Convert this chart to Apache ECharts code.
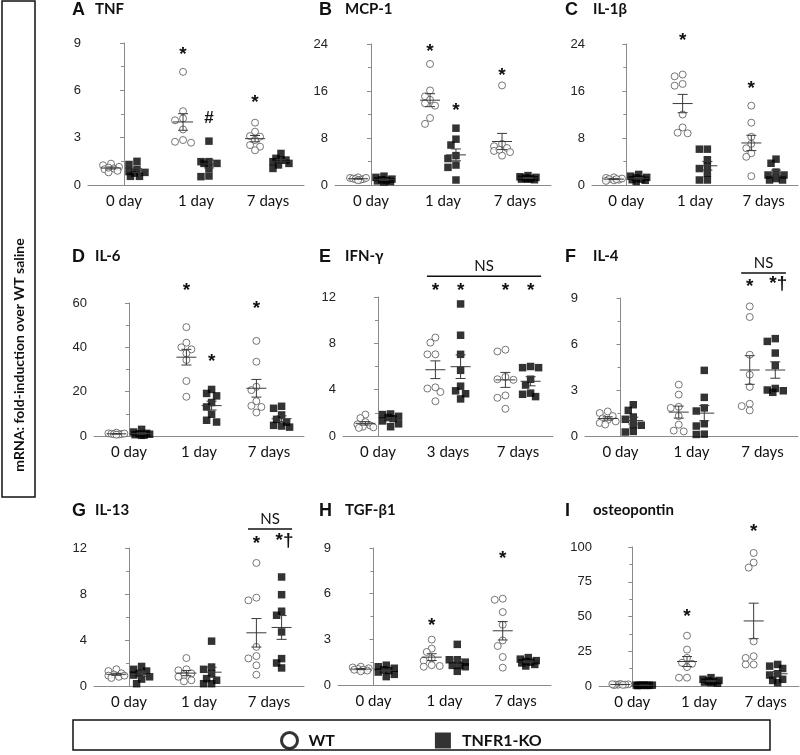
<!DOCTYPE html>
<html><head><meta charset="utf-8">
<script src="https://cdn.jsdelivr.net/npm/echarts@6/dist/echarts.min.js"></script>
<style>html,body{margin:0;padding:0;background:#fff}#c{width:800px;height:755px}</style>
</head><body><div id="c"></div>
<script>
// ---------- DATA ----------
const dayLabels  = ['0 day', '1 day', '7 days'];
const dayLabelsE = ['0 day', '3 days', '7 days'];

// each array: [0-day group, middle group, 7-day group]
const tnfWT = [[1.35,1.25,1.15,1.05,1.0,0.9,0.8,1.1],[7.17,4.68,4.22,4.1,3.52,2.85,2.68,2.74],[3.95,3.38,3.1,3.06,2.85,2.53,2.43,2.2]];
const tnfKO = [[1.5,1.3,1.0,0.85,0.75,0.55,0.55,0.8],[2.78,1.48,1.37,1.48,1.37,1.05,0.53,0.57],[2.0,1.69,1.58,1.48,1.37,1.58,1.05,1.27]];
const mcpWT = [[1.3,1.2,1.1,1.0,0.9,1.0,1.2,0.8],[20.6,16.1,15.1,14.5,13.9,13.5,11.4,10.4],[16.95,7.0,6.6,6.3,5.8,5.6,5.0,6.0]];
const mcpKO = [[1.5,1.3,0.9,0.7,0.5,0.8,0.6,1.0],[9.67,7.8,6.8,5.0,3.4,3.0,4.5,0.85],[1.6,1.4,1.2,1.1,1.0,1.0,0.9,1.3]];
const il1bWT = [[1.3,1.2,1.0,0.9,0.8,1.1,1.0,0.7],[18.8,18.5,16.9,17.2,12.0,9.8,8.8,8.9],[13.5,10.6,8.2,7.0,6.25,5.4,4.8,1.5]];
const il1bKO = [[1.8,1.5,1.2,1.0,0.8,0.6,0.9,1.3],[6.1,6.1,4.3,3.2,2.8,2.0,0.85,0.85],[4.4,3.7,2.2,1.7,1.7,0.85,0.85,1.1]];
const il6WT = [[1.5,1.2,1.0,0.9,0.8,0.7,1.1,0.6],[49.1,42.1,40.0,39.1,37.3,34.3,24.8,17.7],[42.9,33.5,22.2,20.7,15.7,13.6,13.1,10.6]];
const il6KO = [[3.0,1.8,1.2,0.8,0.6,0.4,0.3,1.0],[21.0,19.2,18.1,15.1,13.1,9.8,7.1,6.3],[12.5,13.4,9.5,7.5,6.2,4.8,4.5,4.0]];
const ifngWT = [[1.85,1.55,1.2,1.0,0.9,0.8,0.7,0.75],[8.5,8.06,7.05,7.05,4.1,3.8,4.2,3.0],[7.45,7.3,5.1,4.9,4.85,3.5,3.3,2.35]];
const ifngKO = [[1.9,1.85,1.7,1.6,1.5,1.3,1.05,0.8],[11.4,8.7,7.05,5.67,4.3,3.9,3.65,3.2],[6.0,5.9,5.9,4.9,4.4,3.7,3.4,3.6]];
const il4WT = [[1.6,1.5,1.3,1.15,1.05,0.95,0.85,0.75],[3.35,2.7,1.9,1.83,1.3,0.74,0.35,0.3],[8.45,7.76,5.3,4.0,3.2,2.1,1.95,1.67]];
const il4KO = [[2.04,1.67,1.24,1.09,0.7,0.74,0.26,0.3],[4.28,2.52,1.83,1.63,0.8,0.65,0.1,0.12],[6.35,6.17,5.41,4.6,3.0,3.1,2.85,2.95]];
const il13WT = [[1.45,1.3,1.1,1.0,0.9,0.8,0.7,0.9],[2.43,1.45,1.36,1.1,0.93,0.8,0.5,0.4],[10.7,7.68,7.45,3.4,2.6,2.4,1.8,0.98]];
const il13KO = [[1.7,1.45,1.3,1.1,0.95,0.8,0.6,0.2],[3.9,1.65,1.45,1.07,0.64,0.5,0.2,0.2],[9.48,7.94,6.5,6.15,4.7,2.38,2.0,1.57]];
const tgfWT = [[1.2,1.15,1.1,1.05,1.0,0.95,0.9,1.0],[2.98,2.39,2.17,1.75,1.6,1.3,1.25,1.2],[5.67,5.6,4.79,3.96,2.93,2.56,1.84,1.14]];
const tgfKO = [[1.3,1.2,1.1,1.0,0.95,0.85,0.7,0.55],[2.67,1.66,1.66,1.5,1.29,1.29,1.2,0.9],[1.8,1.7,1.6,1.55,1.5,1.45,1.35,1.25]];
const opnWT = [[1.5,1.2,1.0,0.9,0.8,1.1,0.7,1.3],[36.2,26.2,20.2,16.7,16.0,13.6,6.0,6.0],[95.7,88.8,85.2,32.1,21.4,20.2,15.5,15.5]];
const opnKO = [[0.7,0.6,0.5,0.5,0.4,0.6,0.5,0.3],[6.0,4.8,4.0,3.6,3.2,2.8,2.4,2.0],[15.5,14.3,12.6,8.8,7.9,4.8,4.0,2.4]];

// significance marks: [text, category index, group (-1 WT / +1 KO), value]
const tnfMarks  = [['*',1,-1,8.5],['#',1,1,4.2],['*',2,-1,5.45]];
const mcpMarks  = [['*',1,-1,23.3],['*',1,1,13.4],['*',2,-1,19.2]];
const il1bMarks = [['*',1,-1,25.3],['*',2,-1,17.1]];
const il6Marks  = [['*',1,-1,67.5],['*',1,1,35.5],['*',2,-1,59.2]];
const ifngMarks = [['*',1,-1,12.86],['*',1,1,12.86],['*',2,-1,12.86],['*',2,1,12.86]];
const il4Marks  = [['*',2,-1,9.98],['*†',2,1,9.98]];
const il13Marks = [['*',2,-1,12.7],['*†',2,1,12.7]];
const tgfMarks  = [['*',1,-1,4.14],['*',2,-1,8.56]];
const opnMarks  = [['*',1,-1,52.4],['*',2,-1,113.6]];
// NS bars: [from category, to category, value]
const ifngNS = [1, 2, 13.8];
const il4NS  = [2, 2, 10.63];
const il13NS = [2, 2, 13.65];

// ---------- LAYOUT ----------
const panels = [
 {letter:'A', title:'TNF',        cats:dayLabels,  wt:tnfWT,  ko:tnfKO,  ymax:9,   yint:3,  marks:tnfMarks,  ns:null,   left:88,  top:43,  width:216, height:142, row:0},
 {letter:'B', title:'MCP-1',      cats:dayLabels,  wt:mcpWT,  ko:mcpKO,  ymax:24,  yint:8,  marks:mcpMarks,  ns:null,   left:335, top:44,  width:216, height:141, row:0},
 {letter:'C', title:'IL-1β',      cats:dayLabels,  wt:il1bWT, ko:il1bKO, ymax:24,  yint:8,  marks:il1bMarks, ns:null,   left:592, top:44,  width:206, height:141, row:0},
 {letter:'D', title:'IL-6',       cats:dayLabels,  wt:il6WT,  ko:il6KO,  ymax:60,  yint:20, marks:il6Marks,  ns:null,   left:94,  top:303, width:210, height:133, row:1},
 {letter:'E', title:'IFN-γ',      cats:dayLabelsE, wt:ifngWT, ko:ifngKO, ymax:12,  yint:4,  marks:ifngMarks, ns:ifngNS, left:343, top:297, width:210, height:139, row:1},
 {letter:'F', title:'IL-4',       cats:dayLabels,  wt:il4WT,  ko:il4KO,  ymax:9,   yint:3,  marks:il4Marks,  ns:il4NS,  left:585, top:298, width:213, height:138, row:1},
 {letter:'G', title:'IL-13',      cats:dayLabels,  wt:il13WT, ko:il13KO, ymax:12,  yint:4,  marks:il13Marks, ns:il13NS, left:94,  top:548, width:210, height:138, row:2},
 {letter:'H', title:'TGF-β1',     cats:dayLabels,  wt:tgfWT,  ko:tgfKO,  ymax:9,   yint:3,  marks:tgfMarks,  ns:null,   left:338, top:548, width:213, height:137, row:2},
 {letter:'I', title:'osteopontin',cats:dayLabels,  wt:opnWT,  ko:opnKO,  ymax:100, yint:25, marks:opnMarks,  ns:null,   left:599, top:547, width:200, height:139, row:2}
];
const letterX = [72, 319, 565], titleX = [95, 345, 593], titleY = [11, 258, 512];
const GROUP_OFF = 0.18;
const AXIS_COLOR = '#8a8a8a';

function swarm(vals, center, pxPerX, pxPerY) {
  const order = vals.map((v, i) => i).sort((a, b) => vals[b] - vals[a]);
  const placed = [], out = new Array(vals.length);
  const cands = [0, -5, 5, -8, 8, -2.5, 2.5, -6.5, 6.5];
  for (const i of order) {
    const ypx = vals[i] * pxPerY;
    let best = 0, bestD = -1;
    for (const c of cands) {
      let dmin = Infinity;
      for (const p of placed) { const d = Math.hypot(p[0] - c, p[1] - ypx); if (d < dmin) dmin = d; }
      if (dmin >= 6) { best = c; break; }
      if (dmin > bestD) { bestD = dmin; best = c; }
    }
    placed.push([best, ypx]);
    out[i] = [center + best / pxPerX, vals[i]];
  }
  return out;
}
function meanSem(a) {
  const n = a.length, m = a.reduce((s, v) => s + v, 0) / n;
  const sd = Math.sqrt(a.reduce((s, v) => s + (v - m) * (v - m), 0) / (n - 1));
  return [m, sd / Math.sqrt(n)];
}

const grid = [], xAxis = [], yAxis = [], series = [], graphic = [];
panels.forEach((p, k) => {
  grid.push({left: p.left, top: p.top, width: p.width, height: p.height});
  xAxis.push({gridIndex: k, type: 'category', data: p.cats, boundaryGap: true,
    axisLine: {lineStyle: {color: AXIS_COLOR, width: 1}}, axisTick: {show: false},
    axisLabel: {interval: 0, margin: 9, fontFamily: 'Lato', fontSize: 15, color: '#111'}});
  xAxis.push({gridIndex: k, type: 'value', min: -0.5, max: 2.5, show: false});
  yAxis.push({gridIndex: k, type: 'value', min: 0, max: p.ymax, interval: p.yint,
    axisLine: {show: true, lineStyle: {color: AXIS_COLOR, width: 1}},
    axisTick: {show: true, length: 4, lineStyle: {color: AXIS_COLOR}},
    minorTick: {show: true, splitNumber: 2, length: 3, lineStyle: {color: AXIS_COLOR}},
    splitLine: {show: false},
    axisLabel: {margin: 7, fontFamily: 'Liberation Sans', fontSize: 13, color: '#222'}});
  const pxPerX = p.width / 3, pxPerY = p.height / p.ymax;
  const wtPts = [], koPts = [], meanData = [];
  for (let c = 0; c < 3; c++) {
    wtPts.push(...swarm(p.wt[c], c - GROUP_OFF, pxPerX, pxPerY));
    koPts.push(...swarm(p.ko[c], c + GROUP_OFF, pxPerX, pxPerY));
    meanData.push([c - GROUP_OFF, ...meanSem(p.wt[c])]);
    meanData.push([c + GROUP_OFF, ...meanSem(p.ko[c])]);
  }
  series.push({type: 'scatter', name: 'WT', xAxisIndex: 2 * k + 1, yAxisIndex: k, data: wtPts,
    symbol: 'circle', symbolSize: 7, clip: false, z: 2,
    itemStyle: {color: '#fff', borderColor: '#555', borderWidth: 1}});
  series.push({type: 'scatter', name: 'TNFR1-KO', xAxisIndex: 2 * k + 1, yAxisIndex: k, data: koPts,
    symbol: 'rect', symbolSize: 7.5, clip: false, z: 2,
    itemStyle: {color: '#000'}});
  series.push({type: 'custom', name: 'meanSEM' + k, xAxisIndex: 2 * k + 1, yAxisIndex: k, z: 5,
    data: meanData,
    renderItem: (params, api) => {
      const x = api.value(0), m = api.value(1), s = api.value(2);
      const pm = api.coord([x, m]), pt = api.coord([x, m + s]), pb = api.coord([x, m - s]);
      const st = {stroke: '#3a3a3a', lineWidth: 1};
      return {type: 'group', children: [
        {type: 'line', shape: {x1: pm[0] - 10, y1: pm[1], x2: pm[0] + 10, y2: pm[1]}, style: st},
        {type: 'line', shape: {x1: pt[0], y1: pt[1], x2: pb[0], y2: pb[1]}, style: st},
        {type: 'line', shape: {x1: pt[0] - 5, y1: pt[1], x2: pt[0] + 5, y2: pt[1]}, style: st},
        {type: 'line', shape: {x1: pb[0] - 5, y1: pb[1], x2: pb[0] + 5, y2: pb[1]}, style: st}
      ]};
    }});
  const marks = p.marks;
  series.push({type: 'custom', name: 'marks' + k, xAxisIndex: 2 * k + 1, yAxisIndex: k, z: 6,
    data: marks.map(m => [m[1] + m[2] * GROUP_OFF, m[3]]),
    renderItem: (params, api) => {
      const pt = api.coord([api.value(0), api.value(1)]);
      const t = marks[params.dataIndex][0];
      const isStar = t[0] === '*';
      return {type: 'text', x: pt[0] + (t === '*†' ? 3 : 0), y: pt[1] + (t === '*' ? 4 : (t === '*†' ? 1 : 0)),
        style: {text: t, font: (isStar ? 'bold 19px "Liberation Sans"' : 'bold 17px "Liberation Sans"'),
          fill: '#111', textAlign: 'center', textVerticalAlign: 'middle'}};
    }});
  if (p.ns) {
    const ns = p.ns;
    series.push({type: 'custom', name: 'ns' + k, xAxisIndex: 2 * k + 1, yAxisIndex: k, z: 6,
      data: [[ns[0] - 0.3, ns[1] + 0.33, ns[2]]],
      renderItem: (params, api) => {
        const a = api.coord([api.value(0), api.value(2)]), b = api.coord([api.value(1), api.value(2)]);
        return {type: 'group', children: [
          {type: 'line', shape: {x1: a[0], y1: a[1], x2: b[0], y2: b[1]}, style: {stroke: '#111', lineWidth: 1.5}},
          {type: 'text', x: (a[0] + b[0]) / 2, y: a[1] - 10,
            style: {text: 'NS', font: '15px Lato', fill: '#111', textAlign: 'center', textVerticalAlign: 'middle'}}
        ]};
      }});
  }
  const col = k % 3;
  graphic.push({type: 'text', left: letterX[col], top: titleY[p.row] - 10,
    style: {text: p.letter, font: 'bold 18px "Liberation Sans"', fill: '#111'}});
  graphic.push({type: 'text', left: titleX[col], top: titleY[p.row] - 9,
    style: {text: p.title, font: 'bold 15px Lato', fill: '#111'}});
});

graphic.push({type: 'rect', shape: {x: 2, y: 1, width: 33, height: 496},
  style: {fill: 'none', stroke: '#111', lineWidth: 1.5}});
graphic.push({type: 'text', x: 19, y: 355, rotation: Math.PI / 2,
  style: {text: 'mRNA: fold-induction over WT saline', font: 'bold 14px Lato', fill: '#111',
    textAlign: 'center', textVerticalAlign: 'middle'}});
graphic.push({type: 'rect', shape: {x: 73, y: 720, width: 697, height: 30},
  style: {fill: 'none', stroke: '#111', lineWidth: 1.5}});

const option = {
  animation: false,
  backgroundColor: '#fff',
  grid, xAxis, yAxis, series, graphic,
  legend: {
    left: 275, top: 726, itemWidth: 16, itemHeight: 16, itemGap: 100, selectedMode: false,
    textStyle: {fontFamily: 'Lato', fontWeight: 'bold', fontSize: 16, color: '#111', padding: [0, 0, 0, 6]},
    data: [
      {name: 'WT', icon: 'circle', itemStyle: {color: '#fff', borderColor: '#000', borderWidth: 3}},
      {name: 'TNFR1-KO', icon: 'rect', itemStyle: {color: '#000', borderWidth: 0}}
    ]
  }
};
echarts.init(document.getElementById('c'), null, {renderer: 'canvas'}).setOption(option);
</script></body></html>
